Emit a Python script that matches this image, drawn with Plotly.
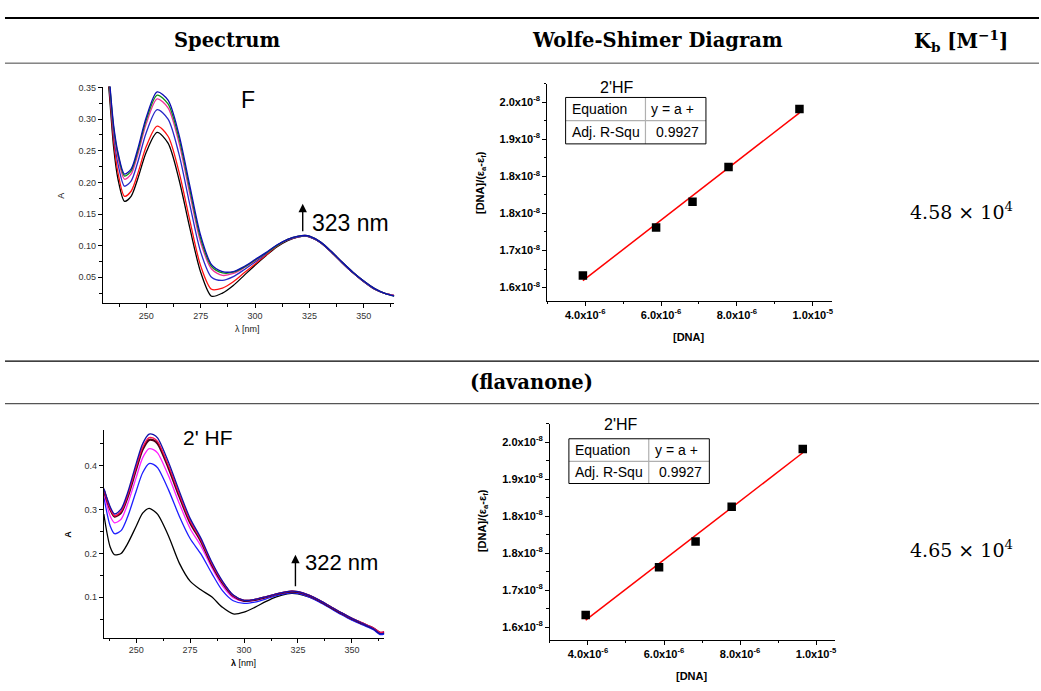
import numpy as np
import plotly.graph_objects as go

W, H = 1041, 691

# ---------------- data ----------------
wl_F = [230, 233, 235, 237, 240, 243, 246, 250, 255, 260, 265, 270, 275, 280, 285, 290,
        295, 300, 305, 310, 315, 320, 323, 325, 330, 335, 340, 345, 350, 355, 360, 364]
A_F_black = [0.46, 0.34, 0.255, 0.205, 0.170, 0.178, 0.205, 0.248, 0.279, 0.262, 0.205, 0.128, 0.058, 0.020, 0.025, 0.037,
             0.053, 0.069, 0.084, 0.098, 0.108, 0.114, 0.115, 0.114, 0.105, 0.090, 0.073, 0.057, 0.043, 0.031, 0.024, 0.021]
A_F_red = [0.47, 0.35, 0.265, 0.215, 0.178, 0.186, 0.213, 0.257, 0.289, 0.273, 0.217, 0.140, 0.068, 0.031, 0.033, 0.043,
           0.057, 0.071, 0.085, 0.099, 0.109, 0.114, 0.115, 0.114, 0.105, 0.090, 0.073, 0.057, 0.043, 0.031, 0.024, 0.021]
A_F_blue = [0.48, 0.355, 0.275, 0.229, 0.194, 0.202, 0.231, 0.279, 0.315, 0.300, 0.245, 0.165, 0.090, 0.050, 0.045, 0.051,
            0.062, 0.074, 0.087, 0.100, 0.109, 0.114, 0.115, 0.114, 0.105, 0.090, 0.073, 0.057, 0.043, 0.031, 0.024, 0.021]
A_F_magenta = [0.49, 0.36, 0.282, 0.239, 0.205, 0.213, 0.243, 0.293, 0.332, 0.318, 0.263, 0.182, 0.105, 0.063, 0.053, 0.056,
               0.065, 0.076, 0.088, 0.100, 0.110, 0.115, 0.116, 0.115, 0.106, 0.091, 0.074, 0.058, 0.044, 0.032, 0.024, 0.021]
A_F_green = [0.49, 0.362, 0.286, 0.244, 0.210, 0.218, 0.248, 0.299, 0.338, 0.324, 0.270, 0.189, 0.111, 0.067, 0.057, 0.058,
             0.066, 0.077, 0.088, 0.100, 0.110, 0.115, 0.116, 0.115, 0.106, 0.091, 0.074, 0.058, 0.044, 0.032, 0.024, 0.020]
A_F_navy = [0.50, 0.365, 0.29, 0.247, 0.213, 0.221, 0.252, 0.303, 0.343, 0.330, 0.276, 0.195, 0.116, 0.070, 0.059, 0.059,
            0.067, 0.078, 0.089, 0.101, 0.110, 0.115, 0.116, 0.115, 0.106, 0.091, 0.074, 0.058, 0.044, 0.032, 0.024, 0.020]

wl_HF = [235, 238, 240, 243, 246, 250, 253, 256, 258, 260, 265, 270, 275, 280, 285, 290, 295,
         300, 305, 310, 315, 320, 322, 325, 330, 335, 340, 345, 350, 355, 360, 363, 365]
A_HF_black = [0.290, 0.214, 0.197, 0.200, 0.222, 0.262, 0.292, 0.303, 0.298, 0.289, 0.240, 0.178, 0.137, 0.117, 0.101, 0.077, 0.062,
              0.066, 0.077, 0.090, 0.101, 0.108, 0.109, 0.108, 0.101, 0.090, 0.076, 0.062, 0.049, 0.038, 0.027, 0.016, 0.017]
A_HF_blue = [0.330, 0.262, 0.245, 0.252, 0.283, 0.342, 0.384, 0.405, 0.403, 0.395, 0.345, 0.285, 0.234, 0.199, 0.155, 0.115, 0.092,
             0.086, 0.089, 0.096, 0.104, 0.109, 0.110, 0.109, 0.101, 0.089, 0.075, 0.061, 0.048, 0.037, 0.026, 0.015, 0.016]
A_HF_magenta = [0.340, 0.285, 0.270, 0.278, 0.312, 0.373, 0.418, 0.439, 0.437, 0.429, 0.377, 0.314, 0.257, 0.217, 0.168, 0.126, 0.099,
                0.091, 0.093, 0.099, 0.107, 0.112, 0.113, 0.112, 0.104, 0.092, 0.078, 0.064, 0.051, 0.040, 0.029, 0.019, 0.021]
A_HF_maroon = [0.345, 0.300, 0.284, 0.293, 0.328, 0.392, 0.437, 0.459, 0.458, 0.450, 0.395, 0.330, 0.270, 0.228, 0.175, 0.133, 0.103,
               0.092, 0.094, 0.100, 0.107, 0.112, 0.113, 0.112, 0.104, 0.092, 0.078, 0.064, 0.051, 0.040, 0.029, 0.019, 0.020]
A_HF_red = [0.346, 0.302, 0.286, 0.296, 0.332, 0.397, 0.442, 0.464, 0.463, 0.455, 0.400, 0.335, 0.274, 0.231, 0.178, 0.135, 0.104,
            0.093, 0.095, 0.101, 0.108, 0.113, 0.114, 0.113, 0.105, 0.093, 0.079, 0.065, 0.052, 0.041, 0.030, 0.020, 0.021]
A_HF_navy = [0.348, 0.306, 0.290, 0.301, 0.338, 0.405, 0.450, 0.472, 0.471, 0.463, 0.408, 0.342, 0.280, 0.235, 0.181, 0.137, 0.105,
             0.093, 0.095, 0.101, 0.108, 0.113, 0.114, 0.113, 0.105, 0.093, 0.079, 0.065, 0.052, 0.040, 0.028, 0.017, 0.018]

dna_conc = [3.94e-6, 5.87e-6, 6.83e-6, 7.78e-6, 9.65e-6]
ws_ratio = [1.626e-8, 1.7295e-8, 1.785e-8, 1.860e-8, 1.985e-8]

ws_ytickvals = [1.6e-8, 1.68e-8, 1.76e-8, 1.84e-8, 1.92e-8, 2.0e-8]
ws_yticklabels = ["1.6", "1.7", "1.8", "1.8", "1.9", "2.0"]
ws_xtickvals = [4e-6, 6e-6, 8e-6, 1e-5]
ws_xticklabels = [("4.0", "-6"), ("6.0", "-6"), ("8.0", "-6"), ("1.0", "-5")]

headers = ["Spectrum", "Wolfe-Shimer Diagram", "K<sub>b</sub> [M<sup>−1</sup>]"]
row_label = "(flavanone)"
kb_values = ["4.58", "4.65"]
kb_exp = "4"
fit_stats = [("Equation", "y = a +"), ("Adj. R-Squ", "0.9927")]


def px(x):
    return x / W


def py(y):
    return 1 - y / H


SANS = "Liberation Sans, Arial, sans-serif"
SERIF = "DejaVu Serif, serif"

fig = go.Figure()

# ---------- spectra ----------
spec_F = [(A_F_black, "#000000"), (A_F_red, "#ff1010"), (A_F_blue, "#2828c8"),
          (A_F_magenta, "#f0309a"), (A_F_green, "#109010"), (A_F_navy, "#0a0ab4")]
for vals, col in spec_F:
    fig.add_trace(go.Scatter(x=wl_F, y=vals, mode="lines", line=dict(color=col, width=1.3, shape="spline", smoothing=0.8),
                             xaxis="x", yaxis="y", showlegend=False, hoverinfo="skip"))

spec_HF = [(A_HF_black, "#000000", 1.3), (A_HF_blue, "#1e1eff", 1.3), (A_HF_magenta, "#ff20ff", 1.3),
           (A_HF_maroon, "#500018", 2.2), (A_HF_red, "#ff1050", 1.3), (A_HF_navy, "#1010a8", 1.3)]
for vals, col, wd in spec_HF:
    fig.add_trace(go.Scatter(x=wl_HF, y=vals, mode="lines", line=dict(color=col, width=wd, shape="spline", smoothing=0.8),
                             xaxis="x3", yaxis="y3", showlegend=False, hoverinfo="skip"))

# ---------- Wolfe-Shimer ----------
coef = np.polyfit(dna_conc, ws_ratio, 1)
fit_x = [min(dna_conc), max(dna_conc)]
fit_y = list(np.polyval(coef, fit_x))
for xa, ya in [("x2", "y2"), ("x4", "y4")]:
    fig.add_trace(go.Scatter(x=fit_x, y=fit_y, mode="lines", line=dict(color="#ff0000", width=1.5),
                             xaxis=xa, yaxis=ya, showlegend=False, hoverinfo="skip"))
    fig.add_trace(go.Scatter(x=dna_conc, y=ws_ratio, mode="markers",
                             marker=dict(symbol="square", size=8.5, color="#000000"),
                             xaxis=xa, yaxis=ya, showlegend=False, hoverinfo="skip"))

axis_common = dict(showline=True, linecolor="#000000", linewidth=1, ticks="outside", ticklen=4,
                   tickcolor="#000000", showgrid=False, zeroline=False, mirror=False, fixedrange=True)

spec_tickfont = dict(family=SANS, size=9, color="#333333")
ws_tickfont = dict(family=SANS, size=11, color="#000000")

ws_ytext = ["<b>%sx10<sup>-8</sup></b>" % t for t in ws_yticklabels]
ws_xtext = ["<b>%sx10<sup>%s</sup></b>" % t for t in ws_xticklabels]

fig.update_layout(
    width=W, height=H, margin=dict(l=0, r=0, t=0, b=0),
    paper_bgcolor="white", plot_bgcolor="white",
    xaxis=dict(axis_common, domain=[px(103), px(395)], range=[230, 364], anchor="y",
               tickvals=[250, 275, 300, 325, 350], tickfont=spec_tickfont,
               minor=dict(tick0=237.5, dtick=12.5, ticklen=2.5, ticks="outside", tickcolor="#000")),
    yaxis=dict(axis_common, domain=[py(301), py(83)], range=[0.0089, 0.3516], anchor="x",
               tickvals=[0.05, 0.10, 0.15, 0.20, 0.25, 0.30, 0.35], ticktext=["0.05", "0.10", "0.15", "0.20", "0.25", "0.30", "0.35"],
               tickfont=spec_tickfont,
               minor=dict(tick0=0.025, dtick=0.025, ticklen=2.5, ticks="outside", tickcolor="#000")),
    xaxis3=dict(axis_common, domain=[px(104), px(385)], range=[235, 365], anchor="y3",
                tickvals=[250, 275, 300, 325, 350], tickfont=spec_tickfont,
                minor=dict(tick0=237.5, dtick=12.5, ticklen=2.5, ticks="outside", tickcolor="#000")),
    yaxis3=dict(axis_common, domain=[py(637.3), py(428.3)], range=[0.008, 0.482], anchor="x3",
                tickvals=[0.1, 0.2, 0.3, 0.4], ticktext=["0.1", "0.2", "0.3", "0.4"], tickfont=spec_tickfont,
                minor=dict(tick0=0.05, dtick=0.05, ticklen=2.5, ticks="outside", tickcolor="#000")),
    xaxis2=dict(axis_common, domain=[px(548.3), px(833.3)], range=[3.0e-6, 1.05e-5], anchor="y2",
                tickvals=ws_xtickvals, ticktext=ws_xtext, tickfont=ws_tickfont,
                minor=dict(tick0=3e-6, dtick=1e-6, ticklen=2.5, ticks="outside", tickcolor="#000")),
    yaxis2=dict(axis_common, domain=[py(298.3), py(80)], range=[1.572e-8, 2.04e-8], anchor="x2",
                tickvals=ws_ytickvals, ticktext=ws_ytext, tickfont=ws_tickfont,
                minor=dict(tick0=1.6e-8, dtick=0.04e-8, ticklen=2.5, ticks="outside", tickcolor="#000")),
    xaxis4=dict(axis_common, domain=[px(551), px(836.7)], range=[3.0e-6, 1.05e-5], anchor="y4",
                tickvals=ws_xtickvals, ticktext=ws_xtext, tickfont=ws_tickfont,
                minor=dict(tick0=3e-6, dtick=1e-6, ticklen=2.5, ticks="outside", tickcolor="#000")),
    yaxis4=dict(axis_common, domain=[py(639.3), py(422)], range=[1.573e-8, 2.04e-8], anchor="x4",
                tickvals=ws_ytickvals, ticktext=ws_ytext, tickfont=ws_tickfont,
                minor=dict(tick0=1.6e-8, dtick=0.04e-8, ticklen=2.5, ticks="outside", tickcolor="#000")),
)

shapes = []
# table rules
shapes.append(dict(type="line", xref="paper", yref="paper", x0=px(5), x1=1, y0=py(14), y1=py(14),
                   line=dict(color="#000000", width=2)))
shapes.append(dict(type="line", xref="paper", yref="paper", x0=px(5), x1=1, y0=py(59.5), y1=py(59.5),
                   line=dict(color="#444444", width=1)))
shapes.append(dict(type="line", xref="paper", yref="paper", x0=px(5), x1=1, y0=py(359.3), y1=py(359.3),
                   line=dict(color="#000000", width=1.2)))
shapes.append(dict(type="line", xref="paper", yref="paper", x0=px(5), x1=1, y0=py(402), y1=py(402),
                   line=dict(color="#555555", width=1.2)))

annotations = []


def ann(text, x, y, size, family=SANS, xanchor="center", yanchor="middle", color="#000000", angle=0):
    annotations.append(dict(text=text, x=px(x), y=py(y), xref="paper", yref="paper", showarrow=False,
                            xanchor=xanchor, yanchor=yanchor, textangle=angle,
                            font=dict(family=family, size=size, color=color)))


# header
ann("<b>%s</b>" % headers[0], 227, 37, 19.5, SERIF)
ann("<b>%s</b>" % headers[1], 659, 37, 19.5, SERIF)
ann("<b>%s</b>" % headers[2], 963, 37, 19.5, SERIF)
ann("<b>%s</b>" % row_label, 533, 381, 19.5, SERIF)

# Kb values
ann("%s × 10<sup>%s</sup>" % (kb_values[0], kb_exp), 963, 208, 19, SERIF)
ann("%s × 10<sup>%s</sup>" % (kb_values[1], kb_exp), 963, 548, 19, SERIF)

# spectrum F labels
ann("A", 61, 193, 9, SANS, angle=-90, color="#222")
ann("λ [nm]", 248, 327, 9, SANS, color="#222")
ann("F", 248, 97, 23, SANS)
ann("323 nm", 311, 220, 23, SANS, xanchor="left")
# spectrum 2'HF labels
ann("<b>A</b>", 68, 533, 9, SANS, angle=-90)
ann("<b>λ</b> [nm]", 244, 663, 9, SANS)
ann("2' HF", 208, 436, 21, SANS)
ann("322 nm", 304, 562, 22, SANS, xanchor="left")

# arrows
for hx, hy, tail in [(303.3, 201, 29), (296, 554, 33)]:
    annotations.append(dict(text="", x=px(hx), y=py(hy), xref="paper", yref="paper", showarrow=True,
                            ax=0, ay=tail, axref="pixel", ayref="pixel", arrowhead=2, arrowsize=1.2,
                            arrowwidth=1.4, arrowcolor="#000000", standoff=0))

# Wolfe-Shimer labels and inset tables
ytitle = "<b>[DNA]/(ε<sub>a</sub>-ε<sub>f</sub>)</b>"
for (tx, ty), (dx, dy), (yx, yy), box in [
    ((618, 84), (690, 335), (482, 180), (566.7, 94, 707.3, 140.7, 646.7, 117.3)),
    ((622, 423), (693, 676), (484, 520), (570, 437.3, 710.7, 482.3, 650, 460)),
]:
    ann("2'HF", tx, ty, 16, SANS)
    ann("<b>[DNA]</b>", dx, dy, 11, SANS)
    ann(ytitle, yx, yy, 11, SANS, angle=-90)
    x0, y0, x1, y1, xc, yr = box
    shapes.append(dict(type="line", xref="paper", yref="paper", x0=px(xc), x1=px(xc), y0=py(y0), y1=py(y1),
                       line=dict(color="#b0b0b0", width=1.2)))
    shapes.append(dict(type="line", xref="paper", yref="paper", x0=px(x0), x1=px(x1), y0=py(yr), y1=py(yr),
                       line=dict(color="#b0b0b0", width=1.2)))
    shapes.append(dict(type="rect", xref="paper", yref="paper", x0=px(x0), x1=px(x1), y0=py(y0), y1=py(y1),
                       line=dict(color="#000000", width=1)))
    r1 = (y0 + yr) / 2
    r2 = (yr + y1) / 2
    ann(fit_stats[0][0], x0 + 4, r1, 14, SANS, xanchor="left")
    ann(fit_stats[0][1], xc + 4, r1, 14, SANS, xanchor="left")
    ann(fit_stats[1][0], x0 + 4, r2, 14, SANS, xanchor="left")
    ann(fit_stats[1][1], x1 - 5, r2, 14, SANS, xanchor="right")

fig.update_layout(shapes=shapes, annotations=annotations)
fig.write_html("out.html")
